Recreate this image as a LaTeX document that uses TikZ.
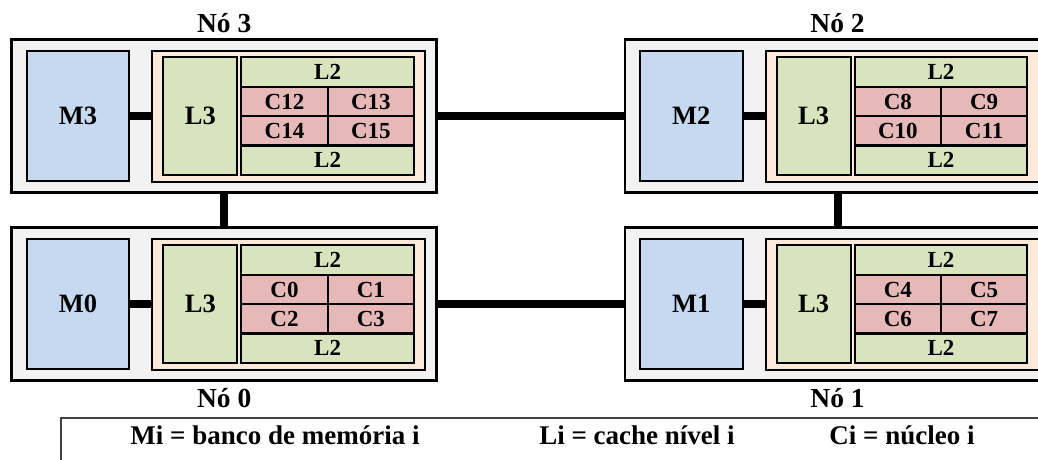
\documentclass[tikz,border=0pt]{standalone}
\usepackage{fontspec}
\setmainfont{Liberation Serif}
\definecolor{nodegray}{HTML}{F2F2F2}
\definecolor{membl}{HTML}{C6D9F1}
\definecolor{chipor}{HTML}{FDE9D9}
\definecolor{cachegr}{HTML}{D7E4BD}
\definecolor{corerd}{HTML}{E6B9B8}
\definecolor{legline}{HTML}{404040}
\tikzset{
  box/.style={draw=black, rectangle, inner sep=0pt, outer sep=0pt, line width=2.2pt,
              text depth=0pt},
  outerbox/.style={box, fill=nodegray, line width=2.5pt},
  bigtext/.style={font=\fontsize{26.5}{26.5}\bfseries, text height=17.5pt},
  smalltext/.style={font=\fontsize{23}{23}\bfseries, text height=15.2pt},
  membox/.style={box, fill=membl, bigtext},
  chipbox/.style={box, fill=chipor},
  lthreebox/.style={box, fill=cachegr, bigtext},
  ltwobox/.style={box, fill=cachegr, smalltext},
  corebox/.style={box, fill=corerd, smalltext},
  link/.style={line width=8pt, black},
  nodetitle/.style={anchor=base, font=\fontsize{27.5}{27.5}\bfseries, inner sep=0pt},
  legtext/.style={anchor=base, font=\fontsize{27}{27}\bfseries, inner sep=0pt},
}
% one NUMA node: #1 id, #2/#3 offset of the top-left corner, #4 title,
% #5 title baseline (relative), #6-#9 the four cores
\newcommand\numanode[9]{%
  \begin{scope}[shift={(#2,#3)}]
    \node[outerbox, minimum width=425pt, minimum height=153.4pt] (outer#1) at (212.5,76.7) {};
    \node[membox, minimum width=102.6pt, minimum height=130.3pt] (mem#1) at (66.3,76.6) {M#1};
    \node[chipbox, minimum width=273pt, minimum height=131pt] (chip#1) at (277.1,76.9) {};
    \draw[link] (mem#1.east) -- (mem#1.east -| chip#1.west);
    \node[lthreebox, minimum width=74pt, minimum height=117.7pt] (lthree#1) at (188.6,76.85) {L3};
    \node[ltwobox, minimum width=172.7pt, minimum height=29.4pt] (ltwoa#1) at (315.95,32.7) {L2};
    \node[corebox, minimum width=86.4pt, minimum height=29.4pt] (corea#1) at (272.8,62.1) {#6};
    \node[corebox, minimum width=86.3pt, minimum height=29.4pt] (coreb#1) at (359.15,62.1) {#7};
    \node[corebox, minimum width=86.4pt, minimum height=29.4pt] (corec#1) at (272.8,91.5) {#8};
    \node[corebox, minimum width=86.3pt, minimum height=29.4pt] (cored#1) at (359.15,91.5) {#9};
    \node[ltwobox, minimum width=172.7pt, minimum height=29.4pt] (ltwob#1) at (315.95,120.9) {L2};
    \node[nodetitle] (title#1) at (212.5,#5) {#4};
  \end{scope}}
\begin{document}
\begin{tikzpicture}[x=1pt, y=-1pt]
  \useasboundingbox (0,0) rectangle (1038,459);
  \fill[white] (0,0) rectangle (1038,459);

  % the four nodes
  \numanode{3}{11.7}{39.3}{Nó 3}{-6.6}{C12}{C13}{C14}{C15}
  \numanode{2}{625}{39.3}{Nó 2}{-6.6}{C8}{C9}{C10}{C11}
  \numanode{0}{11.7}{227.3}{Nó 0}{180.4}{C0}{C1}{C2}{C3}
  \numanode{1}{625}{227.3}{Nó 1}{180.4}{C4}{C5}{C6}{C7}

  % links between the nodes
  \draw[link] (outer3.east) -- (outer2.west);
  \draw[link] (outer0.east) -- (outer1.west);
  \draw[link] (outer3.south) -- (outer0.north);
  \draw[link] (outer2.south) -- (outer1.north);

  % legend
  \node[draw=legline, line width=1.8pt, rectangle, inner sep=0pt, anchor=north west,
        minimum width=1000pt, minimum height=60pt] (legend) at (60,416.7) {};
  \node[legtext] (legm) at (275,444.3) {Mi = banco de memória i};
  \node[legtext] (legl) at (637,444.3) {Li = cache nível i};
  \node[legtext] (legc) at (902,444.3) {Ci = núcleo i};
\end{tikzpicture}
\end{document}
